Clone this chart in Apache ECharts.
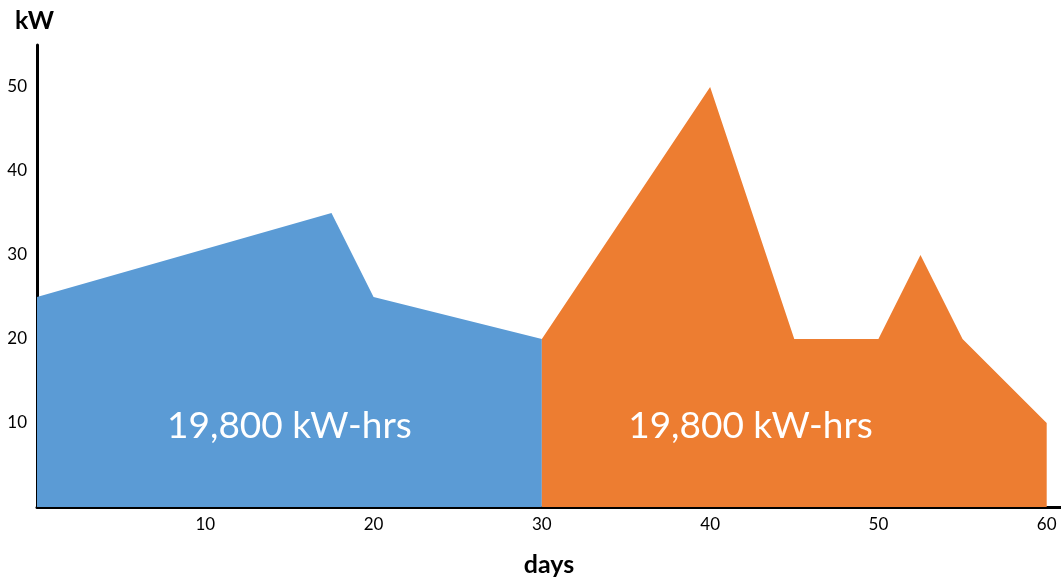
<!DOCTYPE html>
<html>
<head>
<meta charset="utf-8">
<script src="https://cdn.jsdelivr.net/npm/echarts@6/dist/echarts.min.js"></script>
<style>
html,body{margin:0;padding:0;background:#fff;}
#chart{width:1061px;height:582px;}
</style>
</head>
<body>
<div id="chart"></div>
<script>
const blueData = [[0, 25], [17.5, 35], [20, 25], [30, 20]];
const orangeData = [[30, 20], [40, 50], [45, 20], [50, 20], [52.5, 30], [55, 20], [60, 10]];
const blueLabel = { x: 15, y: 9.6, text: '19,800 kW-hrs' };
const orangeLabel = { x: 42.4, y: 9.6, text: '19,800 kW-hrs' };
const xTicks = [10, 20, 30, 40, 50, 60];
const yTicks = [10, 20, 30, 40, 50];
const xTitle = 'days';
const yTitle = 'kW';

const FONT = "Lato, 'Open Sans', sans-serif";
const chart = echarts.init(document.getElementById('chart'), null, { renderer: 'canvas' });

function areaSeries(data, color, lab) {
  return {
    type: 'line',
    data: data,
    symbol: 'none',
    lineStyle: { width: 0 },
    areaStyle: { color: color, opacity: 1 },
    itemStyle: { color: color },
    silent: true,
    z: 1,
    markPoint: {
      symbol: 'circle',
      symbolSize: 0,
      silent: true,
      data: [{ coord: [lab.x, lab.y], value: lab.text }],
      label: {
        show: true,
        position: 'inside',
        formatter: lab.text,
        color: '#ffffff',
        fontSize: 37,
        fontFamily: FONT
      }
    }
  };
}

chart.setOption({
  animation: false,
  title: {
    text: yTitle,
    left: 10,
    top: 3,
    textStyle: { fontSize: 25, fontWeight: 'bold', color: '#000', fontFamily: FONT }
  },
  grid: { left: 37, right: 0, top: 45, bottom: 75, containLabel: false, outerBoundsMode: 'none' },
  xAxis: {
    type: 'value',
    min: 0,
    max: 60.85,
    interval: 10,
    name: xTitle,
    nameLocation: 'middle',
    nameGap: 45,
    nameTextStyle: { fontSize: 25, fontWeight: 'bold', color: '#000', fontFamily: FONT },
    axisLine: { show: true, onZero: false, lineStyle: { color: '#000', width: 3 } },
    axisTick: { show: false },
    splitLine: { show: false },
    axisLabel: {
      margin: 9,
      fontSize: 17,
      color: '#000',
      fontFamily: FONT,
      showMinLabel: false,
      showMaxLabel: false,
      formatter: function (v) { return xTicks.indexOf(v) >= 0 ? String(v) : ''; }
    }
  },
  yAxis: {
    type: 'value',
    min: 0,
    max: 55,
    interval: 10,
    axisLine: { show: true, onZero: false, lineStyle: { color: '#000', width: 3 } },
    axisTick: { show: false },
    splitLine: { show: false },
    axisLabel: {
      margin: 10,
      fontSize: 17,
      color: '#000',
      fontFamily: FONT,
      showMinLabel: false,
      showMaxLabel: false,
      formatter: function (v) { return yTicks.indexOf(v) >= 0 ? String(v) : ''; }
    }
  },
  series: [
    areaSeries(blueData, '#5B9BD5', blueLabel),
    areaSeries(orangeData, '#ED7D31', orangeLabel)
  ]
});
</script>
</body>
</html>
